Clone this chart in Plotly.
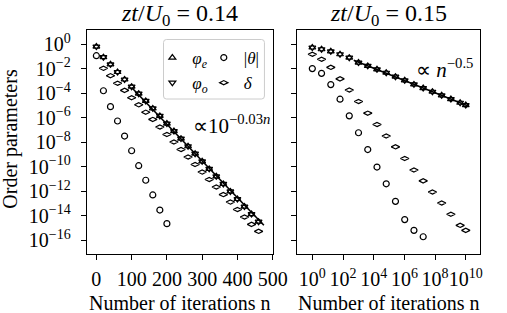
import numpy as np
import plotly.graph_objects as go

# ---------------- data ----------------
# Left panel: zt/U0 = 0.14, linear iteration axis; values stored as log10
left_n = [0, 20, 40, 60, 80, 100, 120, 140, 160, 180, 200, 220, 240, 260,
          280, 300, 320, 340, 360, 380, 400, 420, 440, 460]
left_phi_e_log10 = [-0.18, -1.05, -1.63, -2.26, -2.87, -3.46, -4.03, -4.62,
                    -5.23, -5.85, -6.47, -7.08, -7.70, -8.32, -8.93, -9.55,
                    -10.17, -10.78, -11.40, -12.01, -12.63, -13.25, -13.86, -14.48]
left_phi_o_log10 = [-0.18, -1.05, -1.63, -2.26, -2.87, -3.46, -4.03, -4.62,
                    -5.23, -5.85, -6.47, -7.08, -7.70, -8.32, -8.93, -9.55,
                    -10.17, -10.78, -11.40, -12.01, -12.63, -13.25, -13.86, -14.48]
left_theta_n = [0, 20, 40, 60, 80, 100, 120, 140, 160, 180, 200]
left_theta_log10 = [-0.93, -3.79, -5.09, -6.26, -7.49, -8.69, -9.91, -11.10,
                    -12.30, -13.53, -14.64]
left_delta_n = [20, 40, 60, 80, 100, 120, 140, 160, 180, 200, 220, 240, 260,
                280, 300, 320, 340, 360, 380, 400, 420, 440, 460]
left_delta_log10 = [-1.96, -2.56, -3.18, -3.76, -4.36, -4.94, -5.54, -6.13,
                    -6.75, -7.36, -7.97, -8.59, -9.20, -9.81, -10.43, -11.04,
                    -11.65, -12.27, -12.88, -13.49, -14.10, -14.70, -15.27]
left_fit_n = [100, 475]
left_fit_log10 = [-3.52, -14.77]

# Right panel: zt/U0 = 0.15, log iteration axis
right_n = [1, 4, 16, 64, 256, 1024, 4096, 16384, 65536, 262144, 1048576,
           4194304, 16777216, 67108864, 268435456, 1073741824, 4294967296, 1e10]
right_phi_e_log10 = [-0.26, -0.40, -0.57, -0.81, -1.09, -1.49, -1.76, -2.04,
                     -2.32, -2.64, -2.94, -3.27, -3.57, -3.87, -4.16, -4.47,
                     -4.77, -4.96]
right_phi_o_log10 = [-0.26, -0.40, -0.57, -0.81, -1.09, -1.49, -1.76, -2.04,
                     -2.32, -2.64, -2.94, -3.27, -3.57, -3.87, -4.16, -4.47,
                     -4.77, -4.96]
right_theta_n = [1, 4, 16, 64, 256, 1024, 4096, 16384, 65536, 262144, 1048576,
                 4194304, 16777216]
right_theta_log10 = [-1.98, -2.37, -3.29, -4.48, -5.84, -7.22, -8.59, -10.02,
                     -11.39, -12.82, -14.31, -15.19, -15.71]
right_delta_log10 = [-0.81, -1.22, -1.88, -2.82, -3.73, -4.67, -5.62, -6.55,
                     -7.48, -8.37, -9.32, -10.26, -11.15, -12.06, -12.96,
                     -13.87, -14.78, -15.19]
right_fit_n = [500, 1.3e10]
right_fit_log10 = [-1.30, -5.01]

# tick labels
y_tickvals = [1e0, 1e-2, 1e-4, 1e-6, 1e-8, 1e-10, 1e-12, 1e-14, 1e-16]
y_ticktext = ["10<sup>0</sup>", "10<sup>−2</sup>", "10<sup>−4</sup>",
              "10<sup>−6</sup>", "10<sup>−8</sup>", "10<sup>−10</sup>",
              "10<sup>−12</sup>", "10<sup>−14</sup>", "10<sup>−16</sup>"]
left_x_tickvals = [0, 100, 200, 300, 400, 500]
left_x_ticktext = ["0", "100", "200", "300", "400", "500"]
right_x_tickvals = [1e0, 1e2, 1e4, 1e6, 1e8, 1e10]
right_x_ticktext = ["10<sup>0</sup>", "10<sup>2</sup>", "10<sup>4</sup>",
                    "10<sup>6</sup>", "10<sup>8</sup>", "10<sup>10</sup>"]

# ---------------- styling / layout ----------------
W, H = 507, 313
FONT = "Liberation Serif, serif"
TICK_SIZE = 20


def px(x):
    return x / W


def py(y):
    return 1 - y / H


def pw(v):
    return 10 ** np.asarray(v, dtype=float)


fig = go.Figure()

mk = dict(size=6, color="black", line=dict(width=1.2, color="black"))

# left panel
fig.add_trace(go.Scatter(x=left_n, y=pw(left_phi_e_log10), mode="markers",
                         marker=dict(symbol="triangle-up-open", **mk),
                         name="<i>φ</i><sub><i>e</i></sub>", legend="legend",
                         xaxis="x", yaxis="y"))
fig.add_trace(go.Scatter(x=left_n, y=pw(left_phi_o_log10), mode="markers",
                         marker=dict(symbol="triangle-down-open", **mk),
                         name="<i>φ</i><sub><i>o</i></sub>", legend="legend",
                         xaxis="x", yaxis="y"))
fig.add_trace(go.Scatter(x=left_theta_n, y=pw(left_theta_log10), mode="markers",
                         marker=dict(symbol="circle-open", **mk),
                         name="|<i>θ</i>|", legend="legend2",
                         xaxis="x", yaxis="y"))
fig.add_trace(go.Scatter(x=left_delta_n, y=pw(left_delta_log10), mode="markers",
                         marker=dict(symbol="diamond-wide-open", **mk),
                         name="<i>δ</i>", legend="legend2",
                         xaxis="x", yaxis="y"))
fig.add_trace(go.Scatter(x=left_fit_n, y=pw(left_fit_log10), mode="lines",
                         line=dict(color="black", width=1.6), showlegend=False,
                         xaxis="x", yaxis="y"))

# right panel
fig.add_trace(go.Scatter(x=right_n, y=pw(right_phi_e_log10), mode="markers",
                         marker=dict(symbol="triangle-up-open", **mk),
                         showlegend=False, xaxis="x2", yaxis="y2"))
fig.add_trace(go.Scatter(x=right_n, y=pw(right_phi_o_log10), mode="markers",
                         marker=dict(symbol="triangle-down-open", **mk),
                         showlegend=False, xaxis="x2", yaxis="y2"))
fig.add_trace(go.Scatter(x=right_theta_n, y=pw(right_theta_log10), mode="markers",
                         marker=dict(symbol="circle-open", **mk),
                         showlegend=False, xaxis="x2", yaxis="y2"))
fig.add_trace(go.Scatter(x=right_n, y=pw(right_delta_log10), mode="markers",
                         marker=dict(symbol="diamond-wide-open", **mk),
                         showlegend=False, xaxis="x2", yaxis="y2"))
fig.add_trace(go.Scatter(x=right_fit_n, y=pw(right_fit_log10), mode="lines",
                         line=dict(color="black", width=1.6), showlegend=False,
                         xaxis="x2", yaxis="y2"))

axis_common = dict(showline=True, linecolor="black", linewidth=1.2, mirror=True,
                   ticks="outside", ticklen=5, tickwidth=1.1, tickcolor="black",
                   showgrid=False, zeroline=False, tickangle=0,
                   tickfont=dict(family=FONT, size=TICK_SIZE, color="black"))

y_range = [-17.12, 1.17]

fig.update_layout(
    width=W, height=H,
    margin=dict(l=0, r=0, t=0, b=0),
    paper_bgcolor="white", plot_bgcolor="white",
    font=dict(family=FONT, color="black"),
    xaxis=dict(domain=[px(89.5), px(281)], range=[-27, 500],
               tickmode="array", tickvals=left_x_tickvals,
               ticktext=left_x_ticktext, anchor="y", ticklabelstandoff=2,
               **axis_common),
    yaxis=dict(domain=[py(254), py(30)], type="log", range=y_range,
               tickmode="array", tickvals=y_tickvals, ticktext=y_ticktext,
               anchor="x", ticklabelstandoff=6, **axis_common),
    xaxis2=dict(domain=[px(306.5), px(495)], type="log", range=[-0.97, 10.95],
                tickmode="array", tickvals=right_x_tickvals,
                ticktext=right_x_ticktext, anchor="y2", ticklabelstandoff=2,
                **axis_common),
    yaxis2=dict(domain=[py(254), py(30)], type="log", range=y_range,
                tickmode="array", tickvals=y_tickvals, ticktext=y_ticktext,
                showticklabels=False, anchor="x2", **axis_common),
    legend=dict(x=px(157), y=py(40), xanchor="left", yanchor="top",
                bgcolor="rgba(0,0,0,0)", borderwidth=0,
                font=dict(family=FONT, size=17, color="black"),
                itemwidth=30),
    legend2=dict(x=px(210), y=py(40), xanchor="left", yanchor="top",
                 bgcolor="rgba(0,0,0,0)", borderwidth=0,
                 font=dict(family=FONT, size=17, color="black"),
                 itemwidth=30),
)

# legend frame (rounded)
x0, x1, y0, y1 = px(168.5), px(272.5), py(39.5), py(99)
rx, ry = 3 / W, 3 / H
path = (f"M{x0+rx},{y0} L{x1-rx},{y0} Q{x1},{y0} {x1},{y0-ry} "
        f"L{x1},{y1+ry} Q{x1},{y1} {x1-rx},{y1} L{x0+rx},{y1} "
        f"Q{x0},{y1} {x0},{y1+ry} L{x0},{y0-ry} Q{x0},{y0} {x0+rx},{y0} Z")
fig.add_shape(type="path", path=path, xref="paper", yref="paper",
              line=dict(color="#cccccc", width=1), fillcolor="rgba(255,255,255,0.8)",
              layer="above")

ann = [
    dict(x=px(185.25), y=py(15), text="<i>zt</i>/<i>U</i><sub>0</sub> = 0.14",
         size=24),
    dict(x=px(400.75), y=py(15), text="<i>zt</i>/<i>U</i><sub>0</sub> = 0.15",
         size=24),
    dict(x=px(185.25), y=py(303), text="Number of iterations n", size=20),
    dict(x=px(400.75), y=py(303), text="Number of iterations n", size=20),
]
for a in ann:
    fig.add_annotation(x=a["x"], y=a["y"], xref="paper", yref="paper",
                       text=a["text"], showarrow=False,
                       xanchor="center", yanchor="middle",
                       font=dict(family=FONT, size=a["size"], color="black"))

fig.add_annotation(x=px(10), y=py(139), xref="paper", yref="paper",
                   text="Order parameters", showarrow=False, textangle=-90,
                   xanchor="center", yanchor="middle",
                   font=dict(family=FONT, size=20, color="black"))
fig.add_annotation(x=px(280), y=py(125), xref="paper", yref="paper",
                   text="∝10<sup>−0.03<i>n</i></sup>", showarrow=False,
                   xanchor="right", yanchor="middle",
                   font=dict(family=FONT, size=21, color="black"))
fig.add_annotation(x=px(427), y=py(69), xref="paper", yref="paper",
                   text="∝ <i>n</i><sup>−0.5</sup>", showarrow=False,
                   xanchor="left", yanchor="middle",
                   font=dict(family=FONT, size=21, color="black"))

fig.write_html("out.html")
